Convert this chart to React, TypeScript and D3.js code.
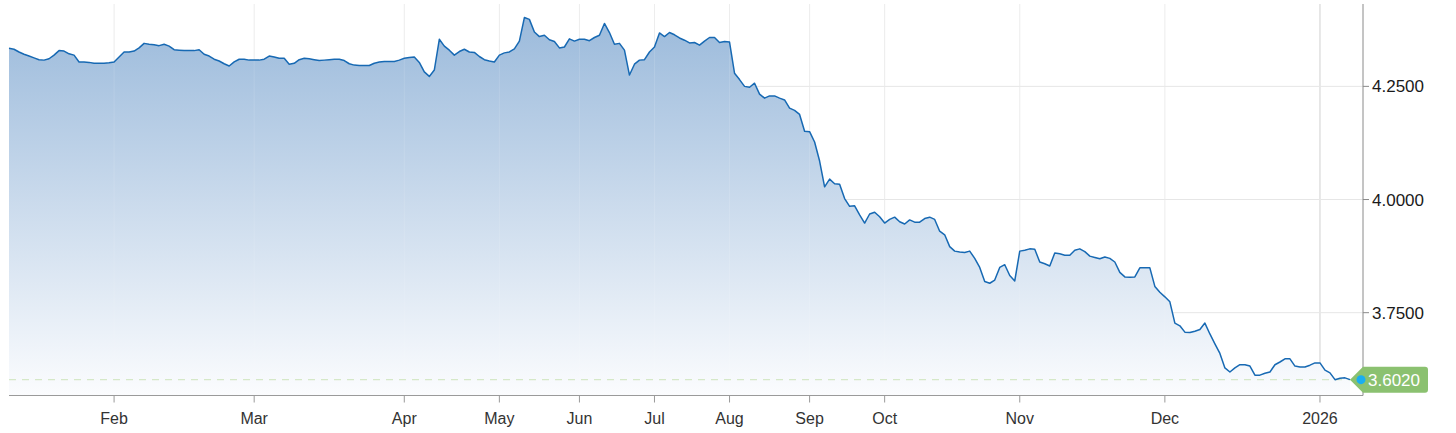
import React from "react";
import * as d3 from "d3";

// Daily yield values, evenly spaced along the x axis
const rates: number[] = [
  4.334, 4.332, 4.326, 4.321, 4.317, 4.313, 4.309, 4.308, 4.311, 4.319,
  4.329, 4.328, 4.322, 4.319, 4.304, 4.304, 4.303, 4.301, 4.301, 4.301,
  4.302, 4.304, 4.315, 4.326, 4.326, 4.328, 4.335, 4.345, 4.343, 4.342,
  4.340, 4.343, 4.339, 4.331, 4.330, 4.329, 4.329, 4.329, 4.331, 4.321,
  4.317, 4.310, 4.306, 4.300, 4.295, 4.304, 4.310, 4.310, 4.308, 4.308,
  4.308, 4.310, 4.317, 4.315, 4.312, 4.312, 4.299, 4.301, 4.309, 4.312,
  4.311, 4.309, 4.307, 4.308, 4.309, 4.310, 4.310, 4.307, 4.300, 4.297,
  4.296, 4.296, 4.296, 4.301, 4.304, 4.305, 4.305, 4.305, 4.308, 4.312,
  4.314, 4.315, 4.303, 4.282, 4.272, 4.286, 4.354, 4.339, 4.330, 4.319,
  4.327, 4.332, 4.326, 4.325, 4.316, 4.309, 4.306, 4.304, 4.319, 4.324,
  4.326, 4.333, 4.350, 4.402, 4.398, 4.370, 4.360, 4.363, 4.353, 4.349,
  4.335, 4.337, 4.355, 4.350, 4.354, 4.354, 4.351, 4.358, 4.363, 4.389,
  4.369, 4.343, 4.345, 4.330, 4.275, 4.299, 4.308, 4.309, 4.326, 4.337,
  4.368, 4.360, 4.369, 4.364, 4.357, 4.352, 4.346, 4.347, 4.341, 4.350,
  4.358, 4.358, 4.347, 4.349, 4.348, 4.279, 4.265, 4.250, 4.248, 4.257,
  4.233, 4.224, 4.229, 4.229, 4.224, 4.220, 4.202, 4.197, 4.188, 4.151,
  4.150, 4.127, 4.085, 4.028, 4.045, 4.035, 4.034, 4.002, 3.985, 3.986,
  3.966, 3.948, 3.968, 3.972, 3.962, 3.948, 3.956, 3.961, 3.951, 3.946,
  3.955, 3.950, 3.950, 3.958, 3.961, 3.956, 3.930, 3.922, 3.896, 3.886,
  3.884, 3.883, 3.886, 3.870, 3.850, 3.819, 3.815, 3.822, 3.850, 3.856,
  3.832, 3.820, 3.886, 3.888, 3.891, 3.890, 3.862, 3.858, 3.853, 3.882,
  3.880, 3.877, 3.877, 3.888, 3.891, 3.885, 3.875, 3.872, 3.869, 3.873,
  3.870, 3.862, 3.839, 3.829, 3.828, 3.829, 3.849, 3.849, 3.849, 3.808,
  3.795, 3.785, 3.774, 3.727, 3.721, 3.707, 3.706, 3.709, 3.713, 3.727,
  3.703, 3.681, 3.660, 3.628, 3.619, 3.628, 3.635, 3.635, 3.632, 3.612,
  3.612, 3.616, 3.619, 3.635, 3.641, 3.648, 3.648, 3.632, 3.630, 3.630,
  3.634, 3.639, 3.639, 3.623, 3.617, 3.602, 3.605, 3.606, 3.602,
];

const monthLabels: string[] = ["Feb", "Mar", "Apr", "May", "Jun", "Jul", "Aug", "Sep", "Oct", "Nov", "Dec", "2026"];
const monthTickIndex: number[] = [21, 49, 79, 98, 114, 129, 144, 160, 175, 202, 231, 262];
const yTickValues: number[] = [3.75, 4.0, 4.25];
const lastValue = 3.602;
const yDomain: [number, number] = [3.567, 4.432];

const W = 1456;
const H = 433;
const plotLeft = 9;
const plotRight = 1363;
const plotTop = 4;
const plotBottom = 395.5;
const font = "'Liberation Sans', Arial, Helvetica, sans-serif";

export default function App() {
  const x = d3.scaleLinear().domain([0, rates.length - 1]).range([plotLeft, 1350]);
  const y = d3.scaleLinear().domain(yDomain).range([plotBottom, plotTop]);

  const area = d3
    .area<number>()
    .x((_, i) => x(i))
    .y0(plotBottom)
    .y1((d) => y(d));
  const line = d3
    .line<number>()
    .x((_, i) => x(i))
    .y((d) => y(d));

  const ly = y(lastValue);
  const bx = plotRight - 13;
  const badgePath = `M${bx},${ly} L${plotRight},${ly - 13} L${plotRight + 62},${ly - 13} Q${plotRight + 65},${ly - 13} ${plotRight + 65},${ly - 10} L${plotRight + 65},${ly + 10} Q${plotRight + 65},${ly + 13} ${plotRight + 62},${ly + 13} L${plotRight},${ly + 13} Z`;

  return (
    <svg
      width={W}
      height={H}
      style={{ position: "absolute", left: 0, top: 0, background: "#fff" }}
      fontFamily={font}
    >
      <defs>
        <linearGradient id="areaGrad" gradientUnits="userSpaceOnUse" x1="0" y1={plotTop} x2="0" y2={plotBottom}>
          <stop offset="0" stopColor="#98b8da" />
          <stop offset="1" stopColor="#fbfcfe" />
        </linearGradient>
      </defs>

      {/* vertical grid */}
      {monthTickIndex.map((t, k) => (
        <line
          key={"vg" + k}
          x1={x(t)}
          x2={x(t)}
          y1={plotTop}
          y2={plotBottom}
          stroke={monthLabels[k] === "2026" ? "#cfcfcf" : "#ebebeb"}
          strokeWidth={1}
        />
      ))}
      {/* horizontal grid */}
      {yTickValues.map((v) => (
        <line key={"hg" + v} x1={plotLeft} x2={plotRight} y1={y(v)} y2={y(v)} stroke="#e6e6e6" strokeWidth={1} />
      ))}

      <path d={area(rates) || ""} fill="url(#areaGrad)" />

      {/* grid lines visible over the area, faintly */}
      {monthTickIndex.map((t, k) => (
        <line
          key={"vg2" + k}
          x1={x(t)}
          x2={x(t)}
          y1={plotTop}
          y2={plotBottom}
          stroke="#ffffff"
          strokeOpacity={0.12}
          strokeWidth={1}
        />
      ))}

      <line
        x1={plotLeft}
        x2={1352}
        y1={ly}
        y2={ly}
        stroke="#d5e8c8"
        strokeWidth={1.2}
        strokeDasharray="7,6"
      />

      <path d={line(rates) || ""} fill="none" stroke="#1769b3" strokeWidth={1.5} strokeLinejoin="round" />

      {/* axes */}
      <line x1={plotLeft} x2={plotRight} y1={plotBottom} y2={plotBottom} stroke="#9a9a9a" strokeWidth={1} />
      <line x1={plotRight} x2={plotRight} y1={plotTop} y2={plotBottom} stroke="#8a8a8a" strokeWidth={1} />

      {monthTickIndex.map((t, k) => (
        <g key={"xt" + k}>
          <line x1={x(t)} x2={x(t)} y1={plotBottom} y2={plotBottom + 7} stroke="#9a9a9a" strokeWidth={1} />
          <text x={x(t)} y={424} textAnchor="middle" fontSize={16} fill="#333">
            {monthLabels[k]}
          </text>
        </g>
      ))}

      {yTickValues.map((v) => (
        <g key={"yt" + v}>
          <line x1={plotRight} x2={plotRight + 6} y1={y(v)} y2={y(v)} stroke="#8a8a8a" strokeWidth={1} />
          <text x={plotRight + 9} y={y(v) + 6} fontSize={17} fill="#1a1a1a">
            {v.toFixed(4)}
          </text>
        </g>
      ))}

      {/* last value badge */}
      <path d={badgePath} fill="#8bc170" />
      <circle cx={plotRight - 2} cy={ly} r={4.5} fill="#1aaef0" />
      <text x={plotRight + 5} y={ly + 6} fontSize={17} fill="#ffffff">
        {lastValue.toFixed(4)}
      </text>
    </svg>
  );
}
